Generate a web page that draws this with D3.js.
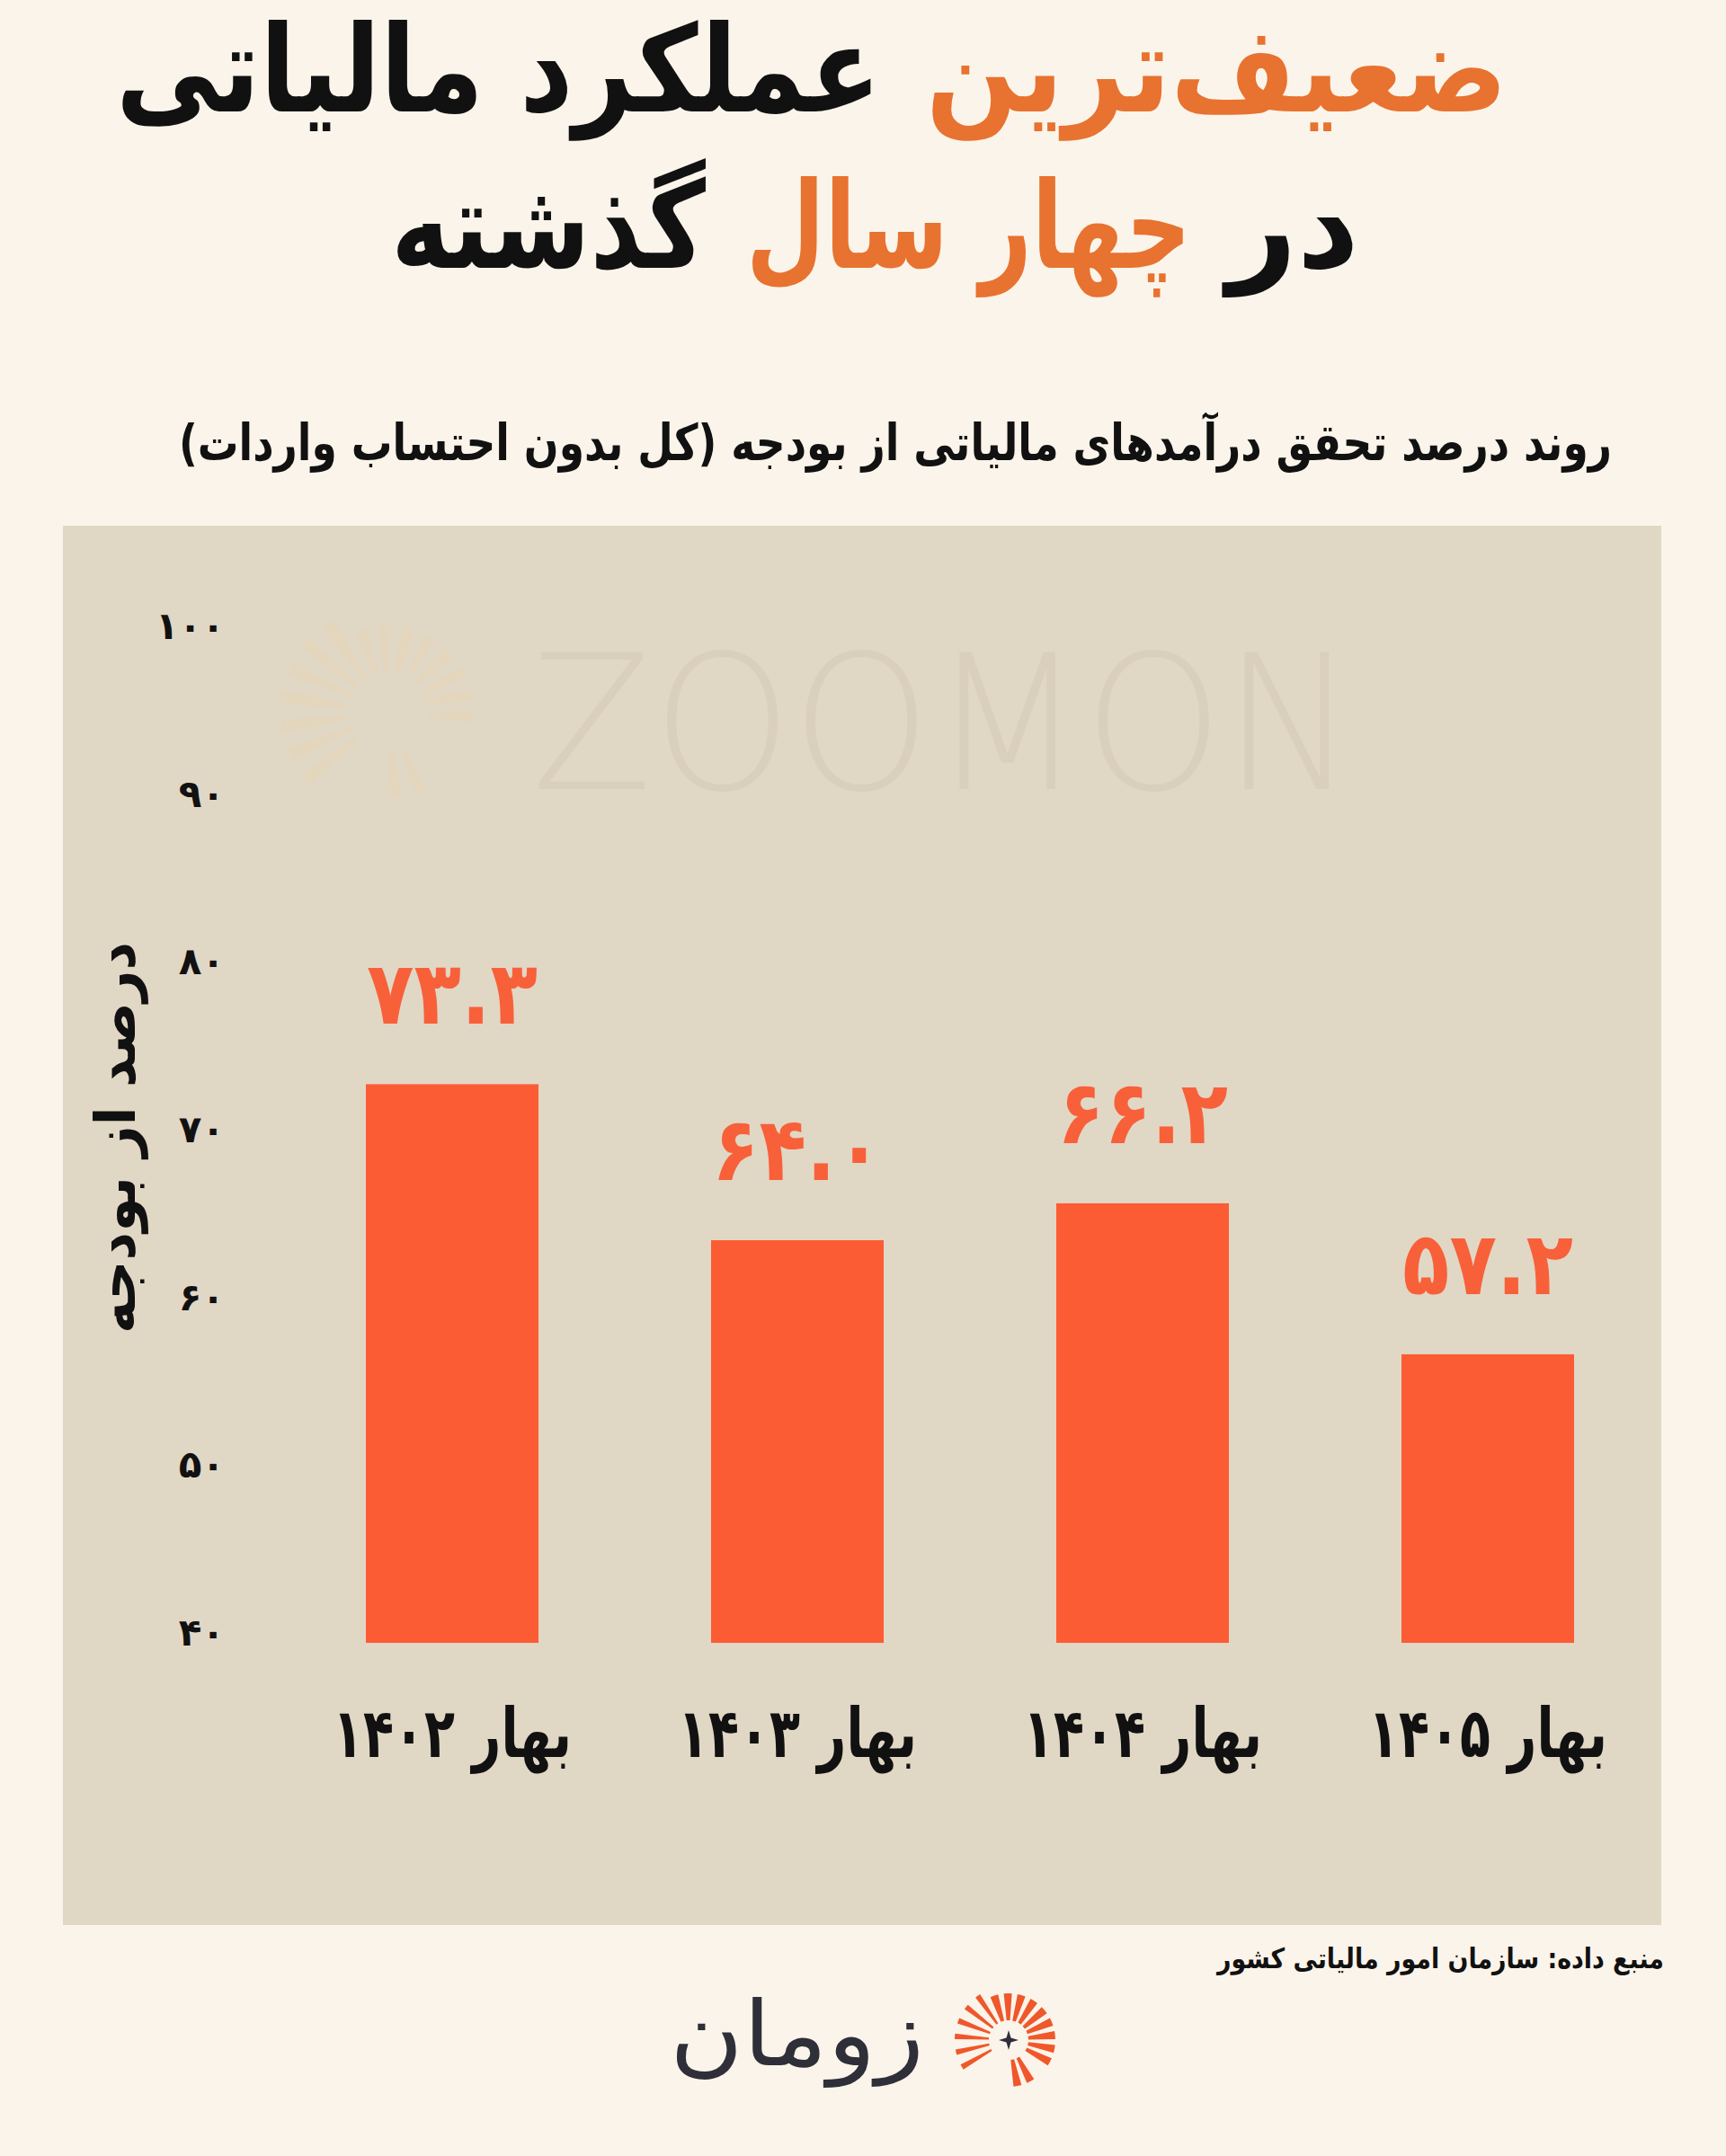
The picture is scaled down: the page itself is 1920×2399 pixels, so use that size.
<!DOCTYPE html>
<html>
<head>
<meta charset="utf-8">
<script src="https://cdn.jsdelivr.net/npm/d3@7"></script>
<style>
  body { margin: 0; background: #FBF4EA; }
  svg { display: block; }
  text { font-family: "DejaVu Sans", sans-serif; }
</style>
</head>
<body>
<svg width="1920" height="2399"></svg>
<script>
// chart data
var categories = ["بهار ۱۴۰۲", "بهار ۱۴۰۳", "بهار ۱۴۰۴", "بهار ۱۴۰۵"];
var values = [73.3, 64.0, 66.2, 57.2];
var yTicks = [40, 50, 60, 70, 80, 90, 100];

var faDigits = "۰۱۲۳۴۵۶۷۸۹";
function toFa(s) { return String(s).replace(/\d/g, function(d) { return faDigits[d]; }); }

var svg = d3.select("svg");
var orange = "#E8722F", barColor = "#FC5C33", labelColor = "#F8603A";

svg.append("rect").attr("width", 1920).attr("height", 2399).attr("fill", "#FBF4EA");

// title, two lines, each part squeezed to its width
function seg(txt, cx, y, len, size, fill) {
  svg.append("text")
    .attr("direction", "rtl")
    .attr("text-anchor", "middle")
    .attr("x", cx).attr("y", y)
    .attr("font-size", size)
    .attr("font-weight", "bold")
    .attr("fill", fill)
    .attr("textLength", len)
    .attr("lengthAdjust", "spacingAndGlyphs")
    .text(txt);
}
seg("ضعیف‌ترین", (1030 + 1677) / 2, 124, 647, 134, orange);
seg("عملکرد مالیاتی", (129 + 980) / 2, 124, 851, 134, "#111");
seg("در", (1365 + 1512) / 2, 298, 147, 134, "#111");
seg("چهار سال", (830 + 1325) / 2, 298, 495, 134, orange);
seg("گذشته", (435 + 785) / 2, 298, 350, 134, "#111");

seg("روند درصد تحقق درآمدهای مالیاتی از بودجه (کل بدون احتساب واردات)", (199 + 1793) / 2, 512, 1594, 56, "#111");

// panel
svg.append("rect")
  .attr("x", 70).attr("y", 585).attr("width", 1778).attr("height", 1557)
  .attr("fill", "#E1D7C5");

// faint watermark
var wm = svg.append("g").attr("transform", "translate(431,792)");
var wmRay = d3.arc().innerRadius(45).cornerRadius(2);
d3.range(-130, 175, 16).forEach(function(a) {
  if (a > 100 && a < 150) return;
  wm.append("path")
    .attr("d", wmRay.outerRadius(a < -20 ? 118 : 96)({ startAngle: (a - 3.5) * Math.PI / 180, endAngle: (a + 3.5) * Math.PI / 180 }))
    .attr("fill", "#E4D5BD");
});
svg.append("text")
  .attr("x", 591).attr("y", 878)
  .attr("font-family", "Lato")
  .attr("font-weight", 300)
  .attr("font-size", 208)
  .attr("fill", "#D9CFBC")
  .attr("textLength", 917)
  .attr("lengthAdjust", "spacingAndGlyphs")
  .text("ZOOMON");

// scales
var x = d3.scaleBand().domain(categories).range([311, 1847]).paddingInner(0.5).paddingOuter(0.25);
var y = d3.scaleLinear().domain([40, 100]).range([1828, 708]);

// y axis
var yAxis = d3.axisLeft(y).tickValues(yTicks).tickFormat(function(d) { return toFa(d); }).tickSize(0).tickPadding(0);
var gy = svg.append("g").attr("transform", "translate(250,0)").call(yAxis);
gy.select(".domain").remove();
gy.selectAll("text")
  .attr("y", -11)
  .attr("font-size", 42)
  .attr("font-weight", "bold")
  .attr("fill", "#111")
  .attr("font-family", "DejaVu Sans");

svg.append("text")
  .attr("direction", "rtl")
  .attr("text-anchor", "middle")
  .attr("transform", "translate(150,1266) rotate(-90)")
  .attr("font-size", 62)
  .attr("font-weight", "bold")
  .attr("fill", "#111")
  .attr("textLength", 436)
  .attr("lengthAdjust", "spacingAndGlyphs")
  .text("درصد از بودجه");

// bars
svg.selectAll(".bar")
  .data(values)
  .enter().append("rect")
  .attr("class", "bar")
  .attr("x", function(d, i) { return x(categories[i]); })
  .attr("y", function(d) { return y(d); })
  .attr("width", x.bandwidth())
  .attr("height", function(d) { return y(40) - y(d); })
  .attr("fill", barColor);

// value labels
svg.selectAll(".val")
  .data(values)
  .enter().append("text")
  .attr("class", "val")
  .attr("text-anchor", "middle")
  .attr("x", function(d, i) { return x(categories[i]) + x.bandwidth() / 2; })
  .attr("y", function(d) { return y(d) - 67; })
  .attr("font-size", 98)
  .attr("font-weight", "bold")
  .attr("fill", labelColor)
  .attr("textLength", 190)
  .attr("lengthAdjust", "spacingAndGlyphs")
  .text(function(d) { return toFa(d.toFixed(1)); });

// x labels
svg.selectAll(".cat")
  .data(categories)
  .enter().append("text")
  .attr("class", "cat")
  .attr("direction", "rtl")
  .attr("text-anchor", "middle")
  .attr("x", function(d) { return x(d) + x.bandwidth() / 2; })
  .attr("y", 1955)
  .attr("font-size", 76)
  .attr("font-weight", "bold")
  .attr("fill", "#111")
  .attr("textLength", 266)
  .attr("lengthAdjust", "spacingAndGlyphs")
  .text(function(d) { return d; });

// source
svg.append("text")
  .attr("direction", "rtl")
  .attr("text-anchor", "middle")
  .attr("x", (1354 + 1851) / 2).attr("y", 2190)
  .attr("font-size", 31)
  .attr("font-weight", "bold")
  .attr("fill", "#111")
  .attr("textLength", 497)
  .attr("lengthAdjust", "spacingAndGlyphs")
  .text("منبع داده: سازمان امور مالیاتی کشور");

// logo
svg.append("text")
  .attr("direction", "rtl")
  .attr("text-anchor", "middle")
  .attr("x", (745 + 1028) / 2).attr("y", 2298)
  .attr("font-size", 100)
  .attr("fill", "#2F2F3A")
  .attr("textLength", 283)
  .attr("lengthAdjust", "spacingAndGlyphs")
  .text("زومان");

var logo = svg.append("g").attr("transform", "translate(1122,2270)");
var ray = d3.arc().innerRadius(22);
d3.range(-120, 170, 17).forEach(function(a) {
  if (a > 125 && a < 150) return;
  var w = a < -30 ? 3 : 5;
  logo.append("path")
    .attr("d", ray.outerRadius(a < -30 ? 60 : 52)({ startAngle: (a - w) * Math.PI / 180, endAngle: (a + w) * Math.PI / 180 }))
    .attr("fill", "#F0572A");
});
logo.append("path")
  .attr("d", "M0,-11 L2.5,-2.5 L11,0 L2.5,2.5 L0,11 L-2.5,2.5 L-11,0 L-2.5,-2.5 Z")
  .attr("fill", "#2F2F3A");
</script>
</body>
</html>
